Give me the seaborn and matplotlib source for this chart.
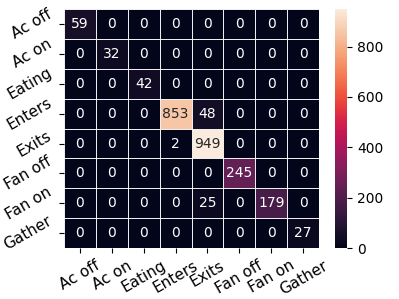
import numpy as np
import pandas as pd
import seaborn as sns
import matplotlib
matplotlib.use("Agg")
import matplotlib.pyplot as plt

labels = ["Ac off", "Ac on", "Eating", "Enters", "Exits", "Fan off", "Fan on", "Gather"]
row_ac_off = [59, 0, 0, 0, 0, 0, 0, 0]
row_ac_on = [0, 32, 0, 0, 0, 0, 0, 0]
row_eating = [0, 0, 42, 0, 0, 0, 0, 0]
row_enters = [0, 0, 0, 853, 48, 0, 0, 0]
row_exits = [0, 0, 0, 2, 949, 0, 0, 0]
row_fan_off = [0, 0, 0, 0, 0, 245, 0, 0]
row_fan_on = [0, 0, 0, 0, 25, 0, 179, 0]
row_gather = [0, 0, 0, 0, 0, 0, 0, 27]

cm = pd.DataFrame(
    [row_ac_off, row_ac_on, row_eating, row_enters, row_exits, row_fan_off, row_fan_on, row_gather],
    index=labels, columns=labels,
)

fig, ax = plt.subplots(figsize=(3.99, 2.99), dpi=100)
sns.heatmap(cm, annot=True, fmt="d", linewidths=0.6, linecolor="#eeeeee", ax=ax)

ax.set_xticklabels(labels, rotation=30, fontsize=11)
ax.set_yticklabels(labels, rotation=30, fontsize=11)

plt.subplots_adjust(left=0.16, right=0.96, top=0.97, bottom=0.17)
plt.savefig("out.png", dpi=100)
